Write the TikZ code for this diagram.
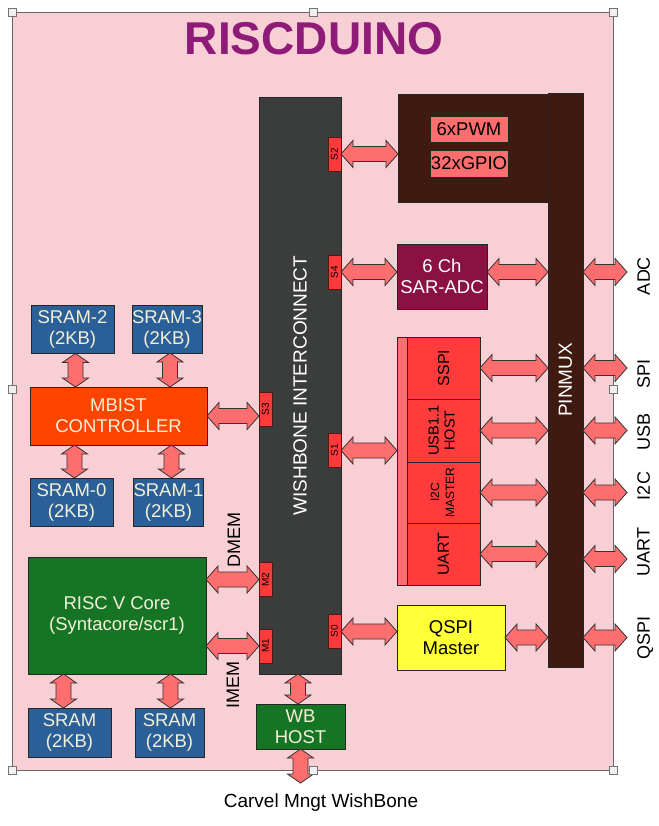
\documentclass[tikz,border=0pt]{standalone}
\usepackage{fontspec}
\setmainfont{Liberation Sans}
\usetikzlibrary{calc}

\definecolor{bgpink}{HTML}{F7CFD5}
\definecolor{titlepurple}{HTML}{8E1B78}
\definecolor{busgray}{HTML}{3A3D3C}
\definecolor{tabred}{HTML}{FF3A3A}
\definecolor{arrowred}{HTML}{FF6E6E}
\definecolor{pinbrown}{HTML}{3E1A10}
\definecolor{adcmaroon}{HTML}{8A1142}
\definecolor{perired}{HTML}{FF3B3B}
\definecolor{qspiyellow}{HTML}{FFFF38}
\definecolor{sramblue}{HTML}{2B5F98}
\definecolor{mbistorange}{HTML}{FF4400}
\definecolor{coregreen}{HTML}{167525}
\definecolor{cream}{HTML}{F3F0D8}

% block arrow, left to right, level of the first point
\newcommand{\harrow}[2]{%
  \draw[blockarrow] let \p1=#1, \p2=#2 in
    (\x1,\y1) -- (\x1+12pt,\y1+13.5pt) -- (\x1+12pt,\y1+7.5pt) -- (\x2-12pt,\y1+7.5pt)
    -- (\x2-12pt,\y1+13.5pt) -- (\x2,\y1) -- (\x2-12pt,\y1-13.5pt) -- (\x2-12pt,\y1-7.5pt)
    -- (\x1+12pt,\y1-7.5pt) -- (\x1+12pt,\y1-13.5pt) -- cycle;}
% block arrow, top to bottom, column of the first point
\newcommand{\varrow}[2]{%
  \draw[blockarrow] let \p1=#1, \p2=#2 in
    (\x1,\y1) -- (\x1+13pt,\y1-9pt) -- (\x1+7.5pt,\y1-9pt) -- (\x1+7.5pt,\y2+9pt)
    -- (\x1+13pt,\y2+9pt) -- (\x1,\y2) -- (\x1-13pt,\y2+9pt) -- (\x1-7.5pt,\y2+9pt)
    -- (\x1-7.5pt,\y1-9pt) -- (\x1-13pt,\y1-9pt) -- cycle;}

\tikzset{
  blk/.style={draw=black!85, line width=0.8pt, inner sep=0pt, outer sep=0pt, align=center,
    font=\fontsize{18.5}{21}\selectfont},
  sram/.style={blk, fill=sramblue, text=cream, minimum height=48pt},
  tab/.style={draw=tabred!35!black, fill=tabred, line width=0.8pt, inner sep=0pt, outer sep=0pt,
    minimum width=13pt, minimum height=34pt, font=\fontsize{10}{10}\selectfont},
  peri/.style={blk, fill=perired, minimum width=73pt},
  pinlbl/.style={inner sep=0pt, anchor=west, font=\fontsize{18}{18}\selectfont},
  blockarrow/.style={fill=arrowred, draw=black!80, line width=0.8pt, line join=miter},
  handle/.style={draw=black!55, fill=black!6, line width=0.6pt, minimum size=8pt, inner sep=0pt}
}

\begin{document}
\begin{tikzpicture}[x=1pt,y=-1pt]
  \useasboundingbox (0,0) rectangle (658,826);
  \fill[white] (0,0) rectangle (658,826);
  % chip
  \draw[fill=bgpink, draw=black!60, line width=0.8pt] (12,12) rectangle (613,770);
  \node[font=\bfseries\fontsize{46}{46}\selectfont, text=titlepurple, anchor=base] (title) at (314,55) {RISCDUINO};

  % bus and ports
  \node[blk, fill=busgray, text=white, minimum width=82pt, minimum height=577pt,
    font=\fontsize{19}{19}\selectfont] (wb) at (300,385.5) {\rotatebox{90}{WISHBONE INTERCONNECT}};
  \node[tab] (s2) at (334.5,154) {\rotatebox{90}{S2}};
  \node[tab] (s4) at (334.5,272) {\rotatebox{90}{S4}};
  \node[tab] (s3) at (265.5,409.5) {\rotatebox{90}{S3}};
  \node[tab] (s1) at (334.5,450.5) {\rotatebox{90}{S1}};
  \node[tab] (m2) at (265.5,579.5) {\rotatebox{90}{M2}};
  \node[tab] (m1) at (265.5,646) {\rotatebox{90}{M1}};
  \node[tab] (s0) at (334.5,631.5) {\rotatebox{90}{S0}};

  \node[blk, fill=pinbrown, text=white, minimum width=35pt, minimum height=574pt,
    font=\fontsize{19}{19}\selectfont] (pinmux) at (565.5,380) {\rotatebox{90}{PINMUX}};

  % gpio / pwm
  \node[blk, fill=pinbrown, minimum width=150pt, minimum height=108pt] (gpio) at (473,148) {};
  \node[blk, fill=arrowred, minimum width=78pt, minimum height=26pt] (pwm6) at (469,129) {6xPWM};
  \node[blk, fill=arrowred, minimum width=78pt, minimum height=27pt] (gpio32) at (469,163.5) {32xGPIO};

  \node[blk, fill=adcmaroon, text=white, minimum width=90pt, minimum height=65pt] (adc) at (442,276.5) {6 Ch\\SAR-ADC};

  % peripherals on S1
  \node[blk, fill=arrowred, minimum width=10pt, minimum height=248pt] (strip) at (402,461) {};
  \node[peri, minimum height=62pt, font=\fontsize{16}{18}\selectfont] (sspi) at (443.5,368) {\rotatebox{90}{SSPI}};
  \node[peri, minimum height=63pt, font=\fontsize{14.5}{16}\selectfont] (usb) at (443.5,430.5)
    {\rotatebox{90}{\begin{tabular}{@{}c@{}}USB1.1\\HOST\end{tabular}}};
  \node[peri, minimum height=61pt, font=\fontsize{12}{15}\selectfont] (i2c) at (443.5,492.5)
    {\rotatebox{90}{\begin{tabular}{@{}c@{}}I2C\\MASTER\end{tabular}}};
  \node[peri, minimum height=62pt, font=\fontsize{16}{18}\selectfont] (uart) at (443.5,554) {\rotatebox{90}{UART}};

  \node[blk, fill=qspiyellow, minimum width=108pt, minimum height=65pt] (qspi) at (451,637.5) {QSPI\\Master};

  % memories
  \node[sram, minimum width=83pt] (sram2) at (72.5,329.5) {SRAM-2\\(2KB)};
  \node[sram, minimum width=68pt] (sram3) at (167,329) {SRAM-3\\(2KB)};
  \node[blk, fill=mbistorange, text=cream, minimum width=177pt, minimum height=58pt] (mbist) at (118.5,416) {MBIST\\CONTROLLER};
  \node[sram, minimum width=83pt] (sram0) at (71.5,502) {SRAM-0\\(2KB)};
  \node[sram, minimum width=69pt] (sram1) at (168.5,502) {SRAM-1\\(2KB)};

  \node[blk, fill=coregreen, text=cream, minimum width=178pt, minimum height=117pt] (core) at (117,615.5) {RISC V Core\\(Syntacore/scr1)};
  \node[sram, minimum width=83pt, minimum height=49pt] (srama) at (69.5,732.5) {SRAM\\(2KB)};
  \node[sram, minimum width=69pt, minimum height=49pt] (sramb) at (169.5,732.5) {SRAM\\(2KB)};
  \node[blk, fill=coregreen, text=cream, minimum width=89pt, minimum height=45pt] (wbhost) at (300.5,726.5) {WB\\HOST};

  \node[font=\fontsize{18}{18}\selectfont] (dmem) at (234,540) {\rotatebox{90}{DMEM}};
  \node[font=\fontsize{18}{18}\selectfont] (imem) at (233,685) {\rotatebox{90}{IMEM}};
  \node[font=\fontsize{19}{19}\selectfont, inner sep=0pt, anchor=base] (carvel) at (321,807) {Carvel Mngt WishBone};

  % pin labels
  \node[pinlbl] (lbladc) at (637,276) {\rotatebox{90}{ADC}};
  \node[pinlbl] (lblspi) at (637,374) {\rotatebox{90}{SPI}};
  \node[pinlbl] (lblusb) at (637,432) {\rotatebox{90}{USB}};
  \node[pinlbl] (lbliic) at (637,486) {\rotatebox{90}{I2C}};
  \node[pinlbl] (lbluart) at (637,552) {\rotatebox{90}{UART}};
  \node[pinlbl] (lblqspi) at (637,638) {\rotatebox{90}{QSPI}};

  % connections
  \harrow{(s2.east)}{(gpio.west)}
  \harrow{(s4.east)}{(adc.west)}
  \harrow{(adc.east |- s4.east)}{(pinmux.west)}
  \harrow{(mbist.east)}{(s3.west)}
  \harrow{(s1.east)}{(strip.west)}
  \harrow{(core.east |- m2.west)}{(m2.west)}
  \harrow{(core.east |- m1.west)}{(m1.west)}
  \harrow{(s0.east)}{(qspi.west)}
  \harrow{(qspi.east)}{(pinmux.west)}
  \harrow{(sspi.east)}{(pinmux.west)}
  \harrow{(usb.east)}{(pinmux.west)}
  \harrow{(i2c.east)}{(pinmux.west)}
  \harrow{(uart.east)}{(pinmux.west)}

  \harrow{(pinmux.east |- s4.east)}{([xshift=-10pt]lbladc.west)}
  \harrow{(pinmux.east |- sspi.east)}{([xshift=-10pt]lblspi.west)}
  \harrow{(pinmux.east |- usb.east)}{([xshift=-10pt]lblusb.west)}
  \harrow{(pinmux.east |- i2c.east)}{([xshift=-10pt]lbliic.west)}
  \harrow{([yshift=-5pt]pinmux.east |- uart.east)}{([xshift=-10pt]lbluart.west)}
  \harrow{(pinmux.east |- qspi.east)}{([xshift=-10pt]lblqspi.west)}

  \varrow{([xshift=3pt]sram2.south)}{(mbist.north)}
  \varrow{([xshift=3pt]sram3.south)}{(mbist.north)}
  \varrow{([xshift=3pt]mbist.south -| sram0.north)}{(sram0.north)}
  \varrow{([xshift=3pt]mbist.south -| sram1.north)}{(sram1.north)}
  \varrow{([xshift=-6pt]core.south -| srama.north)}{(srama.north)}
  \varrow{([xshift=1pt]core.south -| sramb.north)}{(sramb.north)}
  \varrow{([xshift=-2pt]wb.south)}{(wbhost.north)}
  \varrow{(wbhost.south)}{([yshift=10pt]carvel.north)}

  % selection handles
  \foreach \hx/\hy in {12/12, 313/12, 613/12, 12/389, 613/389, 12/770, 313/770, 613/770}
    \node[handle] at (\hx,\hy) {};
\end{tikzpicture}
\end{document}
